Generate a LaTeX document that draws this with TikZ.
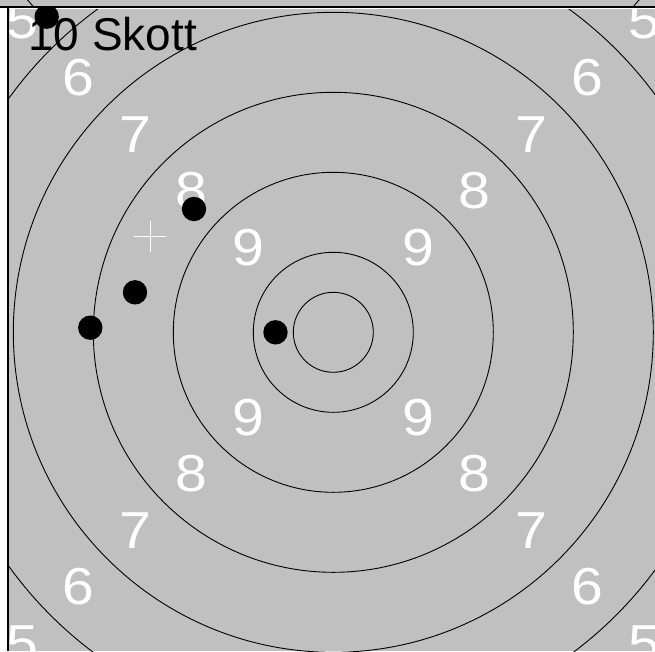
\documentclass[tikz,border=0pt]{standalone}
\usepackage{fontspec}
\setmainfont{Liberation Sans}
\usetikzlibrary{calc}
\definecolor{target}{RGB}{192,192,192}
\tikzset{
  ring/.style={draw=black, line width=0.9pt},
  dig/.style={text=white, inner sep=0pt, font=\fontsize{52}{52}\selectfont, xscale=1.1},
  shot/.style={circle, fill=black, inner sep=0pt, minimum size=24.4pt},
  frameline/.style={draw=black, line width=1.4pt},
}
\begin{document}
\begin{tikzpicture}[x=1pt, y=-1pt]
\useasboundingbox (0,0) rectangle (655,651);
% strip of the panel above
\fill[target] (0,0) rectangle (655,7);
\begin{scope}
  \clip (0,0) rectangle (655,6.5);
  \draw[ring] (333.3,-258) circle (400pt);
\end{scope}
\coordinate (c) at (333.3,332.3);
\begin{scope}
  \clip (9,9) rectangle (655,651);
  \fill[target] (0,0) rectangle (655,651);
  \foreach \r in {40,80,160,240,320,400}{
    \draw[ring] (c) circle (\r pt);
  }
  \foreach \r/\t in {120/9,200/8,280/7,360/6,440/5}{
    \foreach \sx/\sy/\k in {-1/-1/a,1/-1/b,-1/1/c,1/1/d}{
      \node[dig] (l\t\k) at ($(c)+(\sx*\r*0.70711,\sy*\r*0.70711)$) {\t};
    }
  }
  \coordinate (cross) at (150,236.7);
  \draw[white, line width=0.9pt] ([xshift=-16pt]cross) -- ([xshift=16pt]cross);
  \draw[white, line width=0.9pt] ([yshift=-15.5pt]cross) -- ([yshift=15.5pt]cross);
  \node[anchor=base west, inner sep=0pt, font=\fontsize{46}{46}\selectfont] (title) at (28,50) {10 Skott};
\end{scope}
\begin{scope}
  \clip (9,7.5) rectangle (655,651);
  \node[shot] (s1) at (46.7,16.7) {};
  \node[shot] (s2) at (194,209) {};
  \node[shot] (s3) at (135,292.3) {};
  \node[shot] (s4) at (90.3,327.7) {};
  \node[shot] (s5) at (275.5,332.3) {};
\end{scope}
\draw[frameline] (0,7) -- (655,7);
\draw[frameline] (8,7) -- (8,651);
\end{tikzpicture}
\end{document}
